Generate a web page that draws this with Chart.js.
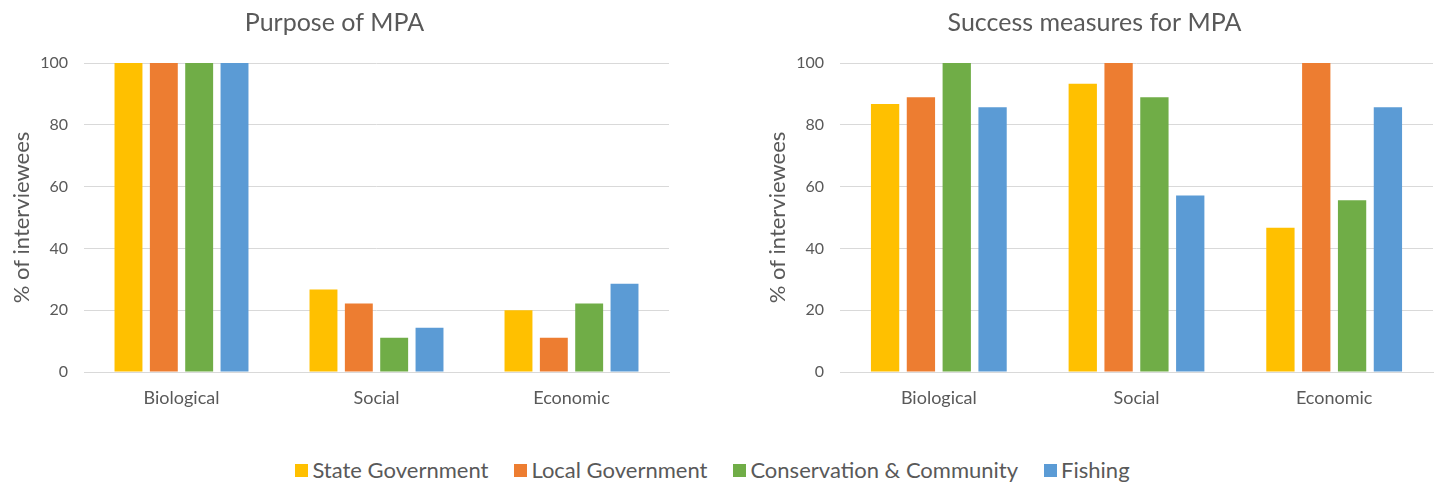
<!DOCTYPE html>
<html>
<head>
<meta charset="utf-8">
<script src="https://cdn.jsdelivr.net/npm/chart.js@4.4.0/dist/chart.umd.min.js"></script>
<style>
    body { margin: 0; background: #fff; width: 1435px; height: 489px; overflow: hidden; position: relative; font-family: Lato, sans-serif; }
    #leftBox { position: absolute; left: 0; top: 0; width: 700px; height: 420px; }
    #rightBox { position: absolute; left: 756px; top: 0; width: 679px; height: 420px; }
    #legend { position: absolute; left: 0; top: 457px; width: 1425px; display: flex; justify-content: center; font-size: 22px; line-height: 26px; color: #595959; }
    .item { display: flex; align-items: center; margin: 0 13px; }
    .box { width: 13px; height: 13px; margin-right: 4px; }
</style>
</head>
<body>
<div id="leftBox"><canvas id="purposeChart"></canvas></div>
<div id="rightBox"><canvas id="successChart"></canvas></div>
<div id="legend"></div>
<script>
    let categories = ['Biological', 'Social', 'Economic'];
    let seriesNames = ['State Government', 'Local Government', 'Conservation & Community', 'Fishing'];
    let seriesColors = ['#FFC000', '#ED7D31', '#70AD47', '#5B9BD5'];
    let yTicks = [0, 20, 40, 60, 80, 100];

    // Purpose of MPA
    let purposeState = [100, 26.7, 20];
    let purposeLocal = [100, 22.2, 11.1];
    let purposeConservation = [100, 11.1, 22.2];
    let purposeFishing = [100, 14.3, 28.6];

    // Success measures for MPA
    let successState = [86.7, 93.3, 46.7];
    let successLocal = [88.9, 100, 100];
    let successConservation = [100, 88.9, 55.6];
    let successFishing = [85.7, 57.1, 85.7];

    let textColor = '#595959';
    let gridColor = '#D9D9D9';

    function makeChart(id, title, series, rightPad) {
        let datasets = series.map(function (values, i) {
            return {
                label: seriesNames[i],
                data: values,
                backgroundColor: seriesColors[i],
                categoryPercentage: 0.725,
                barPercentage: 0.79
            };
        });
        return new Chart(document.getElementById(id), {
            type: 'bar',
            data: {labels: categories, datasets: datasets},
            options: {
                responsive: true,
                maintainAspectRatio: false,
                animation: false,
                layout: {padding: {left: 0, right: rightPad, top: 0, bottom: 0}},
                plugins: {
                    legend: {display: false},
                    tooltip: {enabled: false},
                    title: {
                        display: true,
                        text: title,
                        color: textColor,
                        font: {family: 'Lato', size: 25, weight: 'normal'},
                        padding: {top: 8, bottom: 25}
                    }
                },
                scales: {
                    x: {
                        grid: {display: false, drawTicks: false},
                        border: {display: true, color: gridColor},
                        ticks: {color: textColor, font: {family: 'Lato', size: 18}, padding: 15},
                        afterFit: function (scale) { scale.height = 48; }
                    },
                    y: {
                        min: 0,
                        max: 100,
                        afterBuildTicks: function (scale) {
                            scale.ticks = yTicks.map(function (v) { return {value: v}; });
                        },
                        grid: {color: gridColor, drawTicks: false},
                        border: {display: false},
                        ticks: {color: textColor, font: {family: 'Lato', size: 16}, padding: 16},
                        title: {
                            display: true,
                            text: '% of interviewees',
                            color: textColor,
                            font: {family: 'Lato', size: 22},
                            padding: {top: 9, bottom: 0}
                        },
                        afterFit: function (scale) { scale.width = 84; }
                    }
                }
            }
        });
    }

    makeChart('purposeChart', 'Purpose of MPA',
        [purposeState, purposeLocal, purposeConservation, purposeFishing], 31);
    makeChart('successChart', 'Success measures for MPA',
        [successState, successLocal, successConservation, successFishing], 2);

    let legend = document.getElementById('legend');
    seriesNames.forEach(function (name, i) {
        let item = document.createElement('div');
        item.className = 'item';
        let box = document.createElement('span');
        box.className = 'box';
        box.style.background = seriesColors[i];
        let label = document.createElement('span');
        label.textContent = name;
        item.appendChild(box);
        item.appendChild(label);
        legend.appendChild(item);
    });
</script>
</body>
</html>
